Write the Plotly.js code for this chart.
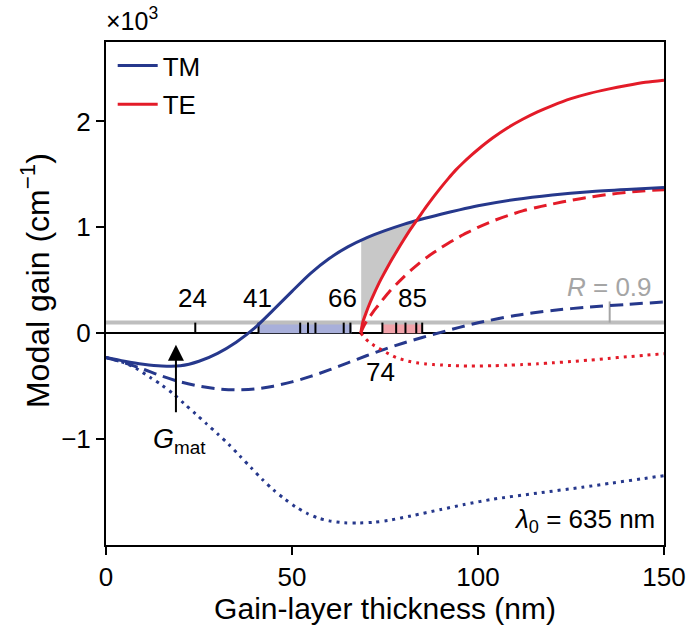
<!DOCTYPE html>
<html>
<head>
<meta charset="utf-8">
<script src="https://cdn.plot.ly/plotly-3.0.1.min.js"></script>
<style>html,body{margin:0;padding:0;background:#fff;}#chart{width:688px;height:628px;}</style>
</head>
<body>
<div id="chart"></div>
<script>
// ---- Data (modal gain in units of 10^3 cm^-1) ----
const tmX = [0,5,10,15,20,25,30,35,40,45,50,55,60,65,70,75,80,85,90,95,100,110,120,130,140,150];
const tmSolid = [-0.23,-0.265,-0.293,-0.31,-0.308,-0.265,-0.19,-0.085,0.05,0.22,0.395,0.565,0.705,0.815,0.9,0.968,1.028,1.078,1.123,1.165,1.203,1.263,1.306,1.337,1.358,1.375];
const tmDashed = [-0.23,-0.28,-0.34,-0.405,-0.46,-0.5,-0.525,-0.535,-0.527,-0.5,-0.46,-0.408,-0.347,-0.28,-0.213,-0.15,-0.092,-0.04,0.008,0.055,0.098,0.168,0.215,0.247,0.272,0.295];

const tmDotX = [0,5,8,12,15,18,21,24,27,30,33,36,39,42,45,48,51,54,57,60,64,68,72,76,82,90,96,104,116,128,136,144,150];
const tmDotted = [-0.23,-0.28,-0.33,-0.42,-0.49,-0.57,-0.665,-0.76,-0.855,-0.95,-1.05,-1.16,-1.27,-1.38,-1.48,-1.565,-1.64,-1.70,-1.745,-1.772,-1.79,-1.792,-1.785,-1.767,-1.725,-1.665,-1.62,-1.568,-1.51,-1.455,-1.415,-1.375,-1.345];

const teX = [68.5,69,70,71,72,73,74,76,78,80,82,84,86,88,90,92,94,96,98,100,104,108,112,116,120,125,130,135,140,145,150];
const teSolid = [0,0.1,0.2,0.29,0.37,0.445,0.515,0.645,0.765,0.88,0.99,1.09,1.19,1.285,1.375,1.46,1.54,1.61,1.675,1.735,1.845,1.94,2.02,2.09,2.15,2.215,2.265,2.305,2.34,2.37,2.39];
const teDashed = [0,0.045,0.11,0.16,0.21,0.255,0.3,0.385,0.46,0.53,0.595,0.655,0.71,0.76,0.805,0.85,0.89,0.93,0.965,1.0,1.06,1.11,1.155,1.19,1.22,1.255,1.285,1.31,1.33,1.345,1.355];
const teDotted = [0,-0.02,-0.06,-0.09,-0.115,-0.135,-0.155,-0.195,-0.23,-0.252,-0.27,-0.282,-0.29,-0.296,-0.3,-0.304,-0.307,-0.309,-0.31,-0.31,-0.307,-0.302,-0.296,-0.289,-0.28,-0.268,-0.254,-0.238,-0.223,-0.208,-0.193];

// threshold (R = 0.9) and measured thicknesses
const threshold = 0.1;
const rMarkX = 135.4;
const rMarkTop = 0.3;
const shadeStart = 68.6;
const tmBand = [41, 66];
const teBand = [74.3, 85];
const tmTicks = [24, 41, 52.2, 54.3, 56.3, 63.9, 65.7];
const teTicks = [74.3, 78, 80.5, 83.4, 85];
const tickLabels = ['24', '41', '66', '85'];
const tickLabelX = [23.3, 40.8, 63.6, 82.4];
const belowLabel = '74';
const belowLabelX = 73.8;
const xTicks = [0, 50, 100, 150];
const yTicks = [-1, 0, 1, 2];

const TM = 'rgb(38,56,140)';
const TE = 'rgb(227,27,40)';
const FONT = '"Liberation Sans", Arial, Helvetica, sans-serif';

function interp(xs, ys, x) {
  if (x <= xs[0]) return ys[0];
  for (let i = 1; i < xs.length; i++) {
    if (x <= xs[i]) {
      const t = (x - xs[i-1]) / (xs[i] - xs[i-1]);
      return ys[i-1] + t * (ys[i] - ys[i-1]);
    }
  }
  return ys[ys.length - 1];
}

// gray shaded region between TM solid and TE solid (above threshold)
let cross = shadeStart;
for (let x = shadeStart; x < 150; x += 0.02) {
  if (interp(teX, teSolid, x) >= interp(tmX, tmSolid, x)) { cross = x; break; }
}
const shX = [], shY = [];
const N = 80;
for (let i = 0; i <= N; i++) { const x = shadeStart + (cross - shadeStart) * i / N; shX.push(x); shY.push(interp(tmX, tmSolid, x)); }
for (let i = N; i >= 0; i--) { const x = shadeStart + (cross - shadeStart) * i / N; shX.push(x); shY.push(Math.max(interp(teX, teSolid, x), threshold)); }

function bandTrace(b, color) {
  return {x: [b[0], b[1], b[1], b[0], b[0]], y: [0, 0, threshold, threshold, 0], mode: 'lines', fill: 'toself',
    fillcolor: color, line: {width: 0}, hoverinfo: 'skip', showlegend: false};
}
function tickTrace(ts) {
  const x = [], y = [];
  ts.forEach(t => { x.push(t, t, null); y.push(0, threshold, null); });
  return {x, y, mode: 'lines', line: {color: 'black', width: 2}, hoverinfo: 'skip', showlegend: false};
}

const traces = [
  {x: shX, y: shY, mode: 'lines', fill: 'toself', fillcolor: 'rgb(200,200,200)', line: {width: 0}, hoverinfo: 'skip', showlegend: false},
  bandTrace(tmBand, 'rgb(168,175,218)'),
  bandTrace(teBand, 'rgb(241,163,170)'),
  {x: [0, 150], y: [threshold, threshold], mode: 'lines', line: {color: 'rgb(190,190,190)', width: 4}, hoverinfo: 'skip', showlegend: false},
  {x: [rMarkX, rMarkX], y: [threshold, rMarkTop], mode: 'lines', line: {color: 'rgb(165,165,165)', width: 2}, hoverinfo: 'skip', showlegend: false},
  tickTrace(tmTicks),
  tickTrace(teTicks),
  {x: tmDotX, y: tmDotted, mode: 'lines', line: {color: TM, width: 3, dash: '3px,5px', shape: 'spline', smoothing: 0.8}, showlegend: false},
  {x: tmX, y: tmDashed, mode: 'lines', line: {color: TM, width: 3, dash: '13px,7px', shape: 'spline', smoothing: 0.8}, showlegend: false},
  {x: teX, y: teDotted, mode: 'lines', line: {color: TE, width: 3, dash: '3px,5px', shape: 'spline', smoothing: 0.8}, showlegend: false},
  {x: teX, y: teDashed, mode: 'lines', line: {color: TE, width: 3, dash: '13px,7px', shape: 'spline', smoothing: 0.8}, showlegend: false},
  {x: tmX, y: tmSolid, mode: 'lines', name: 'TM', line: {color: TM, width: 3, shape: 'spline', smoothing: 0.8}, legendgroup: 'a'},
  {x: teX, y: teSolid, mode: 'lines', name: 'TE', line: {color: TE, width: 3, shape: 'spline', smoothing: 0.8}, legendgroup: 'b'}
];

const annotations = [];
tickLabels.forEach((t, i) => annotations.push({x: tickLabelX[i], y: 0.33, xref: 'x', yref: 'y', text: t, showarrow: false, font: {size: 26, color: 'black'}}));
annotations.push({x: belowLabelX, y: -0.37, xref: 'x', yref: 'y', text: belowLabel, showarrow: false, font: {size: 26, color: 'black'}});
annotations.push({x: rMarkX, y: 0.44, xref: 'x', yref: 'y', text: '<i>R</i> = 0.9', showarrow: false, font: {size: 26, color: 'rgb(165,165,165)'}});
annotations.push({x: 18.8, y: -0.11, ax: 18.8, ay: -0.76, xref: 'x', yref: 'y', axref: 'x', ayref: 'y', text: '', showarrow: true, arrowhead: 2, arrowsize: 1.6, arrowwidth: 2, arrowcolor: 'black'});
annotations.push({x: 19.8, y: -1.02, xref: 'x', yref: 'y', text: '<i>G</i><sub>mat</sub>', showarrow: false, font: {size: 27, color: 'black'}});
annotations.push({x: 148, y: -1.77, xref: 'x', yref: 'y', xanchor: 'right', text: '<i>λ</i><sub>0</sub> = 635 nm', showarrow: false, font: {size: 26, color: 'black'}});
annotations.push({x: -0.003, y: 1.01, xref: 'paper', yref: 'paper', xanchor: 'left', yanchor: 'bottom', text: '×10<sup>3</sup>', showarrow: false, font: {size: 25, color: 'black'}});
// y-axis title (drawn as a rotated annotation so it can be centred like the reference)
annotations.push({x: -0.127, y: 0.525, xref: 'paper', yref: 'paper', xanchor: 'center', yanchor: 'middle', textangle: -90, text: 'Modal gain (cm<sup>−1</sup>)', showarrow: false, font: {size: 32, color: 'black'}});

const layout = {
  width: 688, height: 628,
  margin: {l: 106, r: 24, t: 42, b: 83},
  paper_bgcolor: 'white', plot_bgcolor: 'white',
  font: {family: FONT, color: 'black', size: 26},
  showlegend: true,
  legend: {x: 0.012, y: 1.0, xanchor: 'left', yanchor: 'top', bgcolor: 'rgba(0,0,0,0)', font: {size: 26}, tracegroupgap: 2, itemwidth: 40},
  xaxis: {range: [0, 150], tickvals: xTicks, ticks: 'outside', ticklen: 8, tickwidth: 2, tickcolor: 'black', linecolor: 'black', linewidth: 2, mirror: true,
    showgrid: false, zeroline: false, tickfont: {size: 26}, title: {text: 'Gain-layer thickness (nm)', font: {size: 30}, standoff: 6}, automargin: false},
  yaxis: {range: [-2.0, 2.75], tickvals: yTicks, ticks: 'outside', ticklen: 8, tickwidth: 2, tickcolor: 'black', linecolor: 'black', linewidth: 2, mirror: true,
    showgrid: false, zeroline: true, zerolinecolor: 'black', zerolinewidth: 2, tickfont: {size: 26}, automargin: false},
  annotations: annotations
};

Plotly.newPlot('chart', traces, layout, {displayModeBar: false, staticPlot: true});
</script>
</body>
</html>
